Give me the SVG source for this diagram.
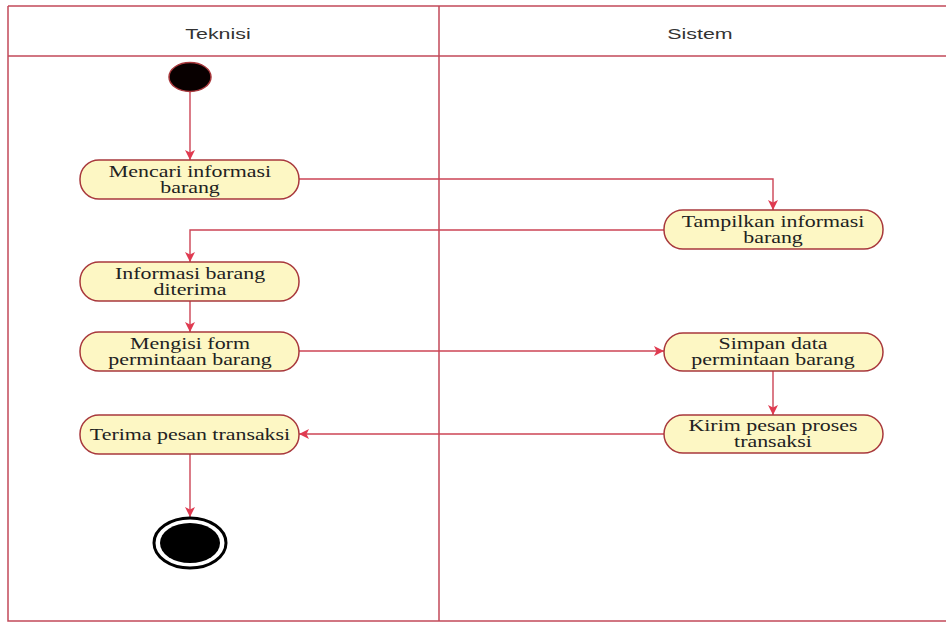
<svg xmlns="http://www.w3.org/2000/svg" width="946" height="623" viewBox="0 0 946 623">
  <style>
    .lane { stroke: #c24a5a; stroke-width: 1.5; fill: none; }
    .hdr { font-family: "Liberation Sans", Arial, sans-serif; font-size: 15.5px; fill: #333; text-anchor: middle; }
    .act { fill: #fdf7c4; stroke: #a8383c; stroke-width: 1.5; }
    .lbl { font-family: "Liberation Serif", "Times New Roman", serif; font-size: 16px; fill: #222; text-anchor: middle; }
    .flow { stroke: #cc4455; stroke-width: 1.4; fill: none; marker-end: url(#arr); }
  </style>
  <defs>
    <marker id="arr" viewBox="0 0 10 10" refX="10" refY="5" markerWidth="10" markerHeight="10" markerUnits="userSpaceOnUse" orient="auto">
      <path d="M0,0 L10,5 L0,10 L2.5,5 Z" fill="#e03a50"/>
    </marker>
  </defs>
  <rect width="946" height="623" fill="#ffffff"/>

  <!-- swimlanes -->
  <g id="lanes">
    <path class="lane" d="M8,6 H946 M8,6 V621 H946 M8,56 H946 M439,6 V621"/>
    <g transform="translate(218,39) scale(1.38,1)"><text class="hdr" x="0" y="0">Teknisi</text></g>
    <g transform="translate(700,39) scale(1.38,1)"><text class="hdr" x="0" y="0">Sistem</text></g>
  </g>

  <!-- connectors -->
  <g id="connectors">
    <path class="flow" d="M190,92 V160"/>
    <path class="flow" d="M299,179 H773 V210"/>
    <path class="flow" d="M664,230 H190 V262"/>
    <path class="flow" d="M190,301 V332"/>
    <path class="flow" d="M299,351 H664"/>
    <path class="flow" d="M773,371 V415"/>
    <path class="flow" d="M664,434 H299"/>
    <path class="flow" d="M190,454 V517"/>
  </g>

  <!-- start -->
  <g id="start">
    <ellipse cx="190" cy="77" rx="21" ry="14.5" fill="#080000" stroke="#a8383c" stroke-width="1.5"/>
  </g>

  <g id="mencari">
    <rect class="act" x="80" y="160" width="219" height="39" rx="19" ry="19"/>
    <g transform="translate(190,0) scale(1.37,1)">
      <text class="lbl" x="0" y="177">Mencari informasi</text>
      <text class="lbl" x="0" y="193">barang</text>
    </g>
  </g>

  <g id="tampilkan">
    <rect class="act" x="664" y="210" width="219" height="39" rx="19" ry="19"/>
    <g transform="translate(773,0) scale(1.37,1)">
      <text class="lbl" x="0" y="227">Tampilkan informasi</text>
      <text class="lbl" x="0" y="243">barang</text>
    </g>
  </g>

  <g id="diterima">
    <rect class="act" x="80" y="262" width="219" height="39" rx="19" ry="19"/>
    <g transform="translate(190,0) scale(1.37,1)">
      <text class="lbl" x="0" y="279">Informasi barang</text>
      <text class="lbl" x="0" y="295">diterima</text>
    </g>
  </g>

  <g id="mengisi">
    <rect class="act" x="80" y="332" width="219" height="39" rx="19" ry="19"/>
    <g transform="translate(190,0) scale(1.37,1)">
      <text class="lbl" x="0" y="349">Mengisi form</text>
      <text class="lbl" x="0" y="365">permintaan barang</text>
    </g>
  </g>

  <g id="simpan">
    <rect class="act" x="664" y="333" width="219" height="38" rx="19" ry="19"/>
    <g transform="translate(773,0) scale(1.37,1)">
      <text class="lbl" x="0" y="349">Simpan data</text>
      <text class="lbl" x="0" y="365">permintaan barang</text>
    </g>
  </g>

  <g id="kirim">
    <rect class="act" x="664" y="415" width="219" height="38" rx="19" ry="19"/>
    <g transform="translate(773,0) scale(1.37,1)">
      <text class="lbl" x="0" y="431">Kirim pesan proses</text>
      <text class="lbl" x="0" y="447">transaksi</text>
    </g>
  </g>

  <g id="terima">
    <rect class="act" x="80" y="415" width="219" height="39" rx="19" ry="19"/>
    <g transform="translate(190,0) scale(1.37,1)">
      <text class="lbl" x="0" y="440">Terima pesan transaksi</text>
    </g>
  </g>

  <!-- end -->
  <g id="end">
    <ellipse cx="190" cy="543" rx="36" ry="25" fill="#ffffff" stroke="#000000" stroke-width="3"/>
    <ellipse cx="190" cy="543" rx="30" ry="20" fill="#000000"/>
  </g>
</svg>
